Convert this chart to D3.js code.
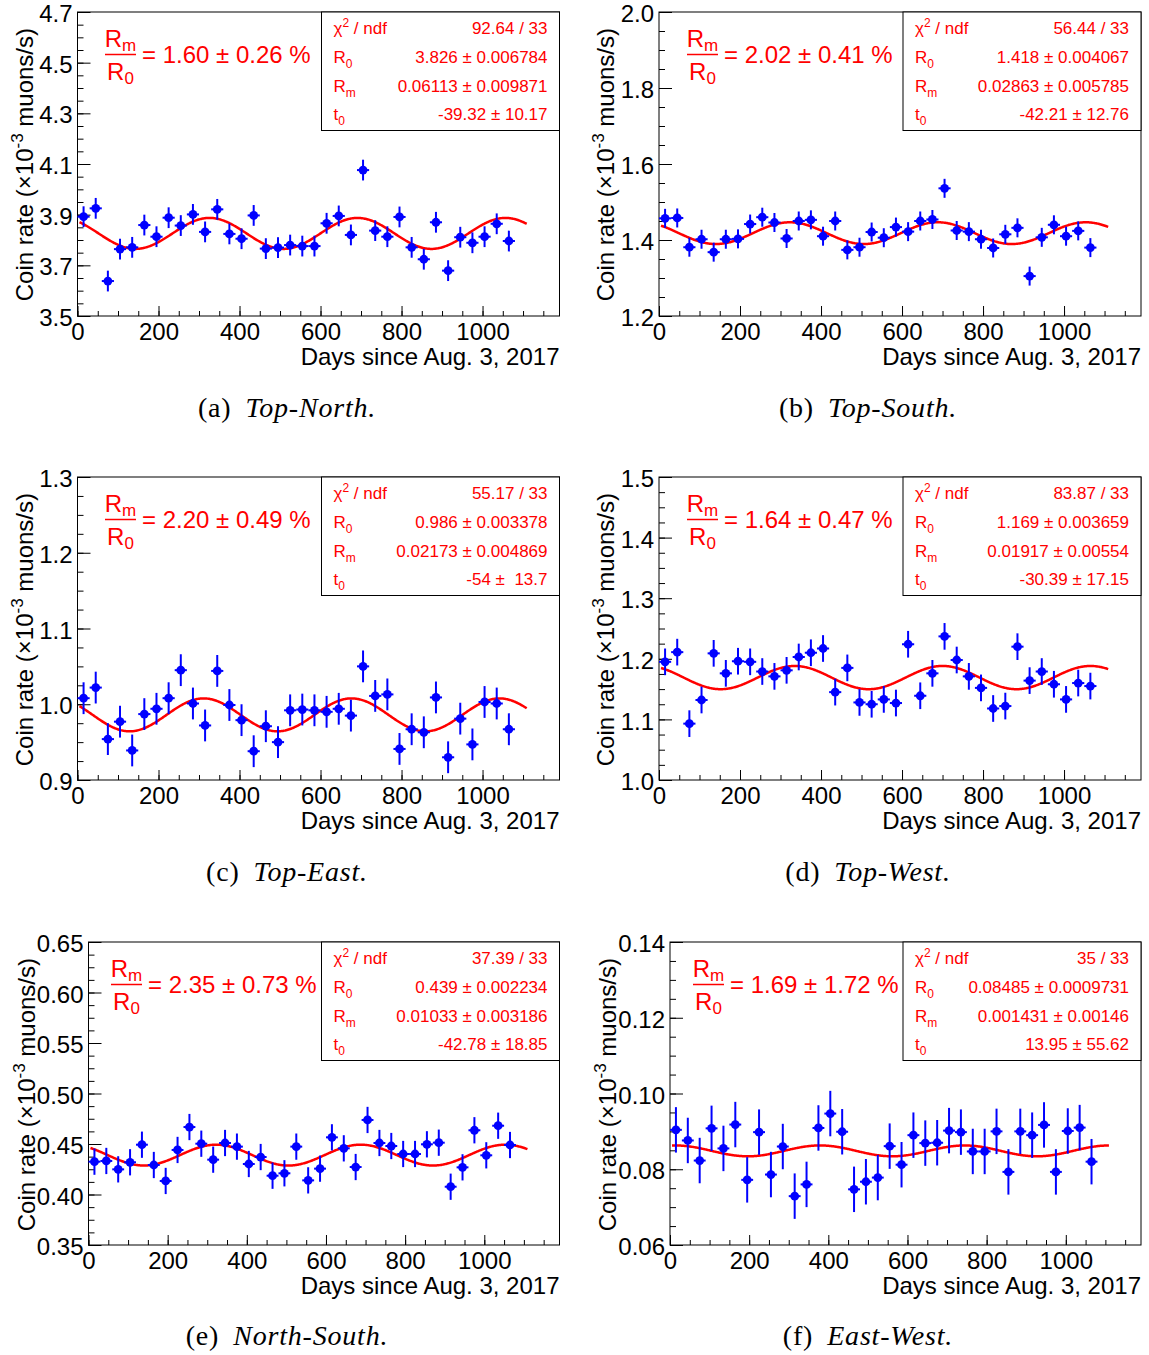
<!DOCTYPE html>
<html>
<head>
<meta charset="utf-8">
<script src="https://cdn.jsdelivr.net/npm/d3@7"></script>
<style>
body { margin: 0; background: #fff; }
text { font-family: "Liberation Sans", Arial, Helvetica, sans-serif; }
.cap { font-family: "Liberation Serif", "Times New Roman", serif; }
</style>
</head>
<body>
<script>
// bin centres (days since Aug. 3, 2017)
var days = [15, 45, 75, 105, 135, 165, 195, 225, 255, 285, 315, 345, 375, 405, 435, 465, 495, 525,
            555, 585, 615, 645, 675, 705, 735, 765, 795, 825, 855, 885, 915, 945, 975, 1005, 1035, 1065];

// coin rates, x10^-3 muons/s
var topNorth = [3.892, 3.925, 3.638, 3.764, 3.771, 3.859, 3.813, 3.888, 3.857, 3.901, 3.832, 3.921,
                3.824, 3.805, 3.897, 3.766, 3.770, 3.780, 3.776, 3.776, 3.866, 3.895, 3.820, 4.076,
                3.837, 3.813, 3.891, 3.771, 3.724, 3.870, 3.679, 3.811, 3.789, 3.813, 3.864, 3.796];
var topSouth = [1.457, 1.458, 1.381, 1.402, 1.368, 1.402, 1.403, 1.442, 1.460, 1.446, 1.404, 1.450,
                1.453, 1.410, 1.450, 1.374, 1.381, 1.421, 1.406, 1.434, 1.422, 1.450, 1.454, 1.536,
                1.425, 1.422, 1.402, 1.379, 1.415, 1.432, 1.305, 1.407, 1.440, 1.410, 1.424, 1.380];
var topEast = [1.008, 1.022, 0.954, 0.977, 0.939, 0.987, 0.994, 1.008, 1.045, 1.001, 0.972, 1.044,
               0.999, 0.979, 0.938, 0.971, 0.950, 0.992, 0.993, 0.992, 0.990, 0.994, 0.985, 1.050,
               1.011, 1.013, 0.941, 0.967, 0.963, 1.009, 0.930, 0.981, 0.947, 1.003, 1.001, 0.967];
var topWest = [1.195, 1.211, 1.093, 1.132, 1.209, 1.176, 1.196, 1.195, 1.179, 1.171, 1.181, 1.203,
               1.210, 1.217, 1.145, 1.185, 1.128, 1.125, 1.133, 1.127, 1.224, 1.139, 1.176, 1.237,
               1.198, 1.171, 1.152, 1.118, 1.122, 1.220, 1.164, 1.179, 1.158, 1.133, 1.160, 1.155];
var northSouth = [0.4325, 0.4332, 0.4249, 0.4319, 0.4493, 0.4292, 0.4134, 0.4441, 0.4668, 0.4503, 0.4345, 0.4510,
                  0.4474, 0.4302, 0.4371, 0.4186, 0.4210, 0.4474, 0.4140, 0.4256, 0.4566, 0.4457, 0.4272, 0.4738,
                  0.4510, 0.4480, 0.4401, 0.4401, 0.4497, 0.4513, 0.4077, 0.4269, 0.4636, 0.4388, 0.4681, 0.4490];
var eastWest = [0.0904, 0.0876, 0.0823, 0.0908, 0.0855, 0.0918, 0.0772, 0.0898, 0.0786, 0.0860, 0.0729, 0.0760,
                0.0909, 0.0947, 0.0899, 0.0747, 0.0767, 0.0778, 0.0861, 0.0812, 0.0890, 0.0869, 0.0870, 0.0902,
                0.0898, 0.0847, 0.0847, 0.0900, 0.0793, 0.0900, 0.0890, 0.0917, 0.0793, 0.0901, 0.0910, 0.0820];

// vertical error of each panel's points
var rateErr = [0.041, 0.025, 0.021, 0.022, 0.013, 0.006];
var binHalf = 15;

// fit results  R0 + Rm*cos(2pi(t-t0)/365.25)
var fitR0 = [3.826, 1.418, 0.986, 1.169, 0.439, 0.08485];
var fitRm = [0.06113, 0.02863, 0.02173, 0.01917, 0.01033, 0.001431];
var fitT0 = [-39.32, -42.21, -54, -30.39, -42.78, 13.95];
var fitRange = [5, 1110];

// stats box texts
var statChi = ["92.64 / 33", "56.44 / 33", "55.17 / 33", "83.87 / 33", "37.39 / 33", "35 / 33"];
var statR0 = ["3.826 \u00b1 0.006784", "1.418 \u00b1 0.004067", "0.986 \u00b1 0.003378",
              "1.169 \u00b1 0.003659", "0.439 \u00b1 0.002234", "0.08485 \u00b1 0.0009731"];
var statRm = ["0.06113 \u00b1 0.009871", "0.02863 \u00b1 0.005785", "0.02173 \u00b1 0.004869",
              "0.01917 \u00b1 0.00554", "0.01033 \u00b1 0.003186", "0.001431 \u00b1 0.00146"];
var statT0 = ["-39.32 \u00b1 10.17", "-42.21 \u00b1 12.76", "-54 \u00b1  13.7",
              "-30.39 \u00b1 17.15", "-42.78 \u00b1 18.85", "13.95 \u00b1 55.62"];
var ratioText = ["= 1.60 \u00b1 0.26 %", "= 2.02 \u00b1 0.41 %", "= 2.20 \u00b1 0.49 %",
                 "= 1.64 \u00b1 0.47 %", "= 2.35 \u00b1 0.73 %", "= 1.69 \u00b1 1.72 %"];

// axes
var xTicks = [0, 200, 400, 600, 800, 1000];
var xMax = 1190;
var yTicks = [["3.5", "3.7", "3.9", "4.1", "4.3", "4.5", "4.7"],
              ["1.2", "1.4", "1.6", "1.8", "2.0"],
              ["0.9", "1.0", "1.1", "1.2", "1.3"],
              ["1.0", "1.1", "1.2", "1.3", "1.4", "1.5"],
              ["0.35", "0.40", "0.45", "0.50", "0.55", "0.60", "0.65"],
              ["0.06", "0.08", "0.10", "0.12", "0.14"]];
var capLetter = ["(a)", "(b)", "(c)", "(d)", "(e)", "(f)"];
var capName = ["Top-North.", "Top-South.", "Top-East.", "Top-West.", "North-South.", "East-West."];

var series = [topNorth, topSouth, topEast, topWest, northSouth, eastWest];

// layout (pixels)
var frames = [
  {l: 77.5, r: 559.5, t: 12, b: 316},
  {l: 659, r: 1141, t: 12, b: 316},
  {l: 77.5, r: 559.5, t: 477, b: 780},
  {l: 659, r: 1141, t: 477, b: 780},
  {l: 88.5, r: 559.5, t: 942, b: 1245},
  {l: 670, r: 1141, t: 942, b: 1245}
];
var titleX = [33, 614, 33, 614, 35, 616];
var ratioX = [105, 687, 105, 687, 111, 693];
var capX = [287, 868];
var capY = [417, 881, 1345];

var red = "#ff0000", blue = "#0000ff";

var svg = d3.select("body").append("svg")
    .attr("width", 1149)
    .attr("height", 1355);

function drawPanel(i) {
  var f = frames[i];
  var ticks = yTicks[i].map(function(s) { return +s; });
  var lo = ticks[0], hi = ticks[ticks.length - 1];
  var dec = yTicks[i][0].split(".")[1].length;

  var x = d3.scaleLinear().domain([0, xMax]).range([f.l, f.r]);
  var y = d3.scaleLinear().domain([lo, hi]).range([f.b, f.t]);

  var g = svg.append("g");

  // minor ticks
  var yStep = (ticks[1] - ticks[0]) / 4;
  var yMinor = d3.range(lo, hi + yStep / 2, yStep);
  var xMinor = d3.range(0, xMax, 50);

  g.append("g")
      .attr("transform", "translate(" + f.l + ",0)")
      .call(d3.axisLeft(y).tickValues(yMinor).tickSize(-6).tickFormat(""))
      .call(function(a) { a.select(".domain").remove(); });
  g.append("g")
      .attr("transform", "translate(0," + f.b + ")")
      .call(d3.axisBottom(x).tickValues(xMinor).tickSize(-5).tickFormat(""))
      .call(function(a) { a.select(".domain").remove(); });

  // major ticks + labels
  var ya = g.append("g")
      .attr("transform", "translate(" + f.l + ",0)")
      .call(d3.axisLeft(y).tickValues(ticks).tickSize(-13).tickPadding(5)
            .tickFormat(d3.format("." + dec + "f")));
  ya.select(".domain").remove();
  ya.selectAll("text").attr("font-size", 24).attr("font-family", null).attr("dy", "0.4em");

  var xa = g.append("g")
      .attr("transform", "translate(0," + f.b + ")")
      .call(d3.axisBottom(x).tickValues(xTicks).tickSize(-10).tickPadding(7)
            .tickFormat(d3.format("d")));
  xa.select(".domain").remove();
  xa.selectAll("text").attr("font-size", 24).attr("font-family", null);
  g.selectAll(".tick line").attr("stroke", "#000");

  // frame
  g.append("rect")
      .attr("x", f.l).attr("y", f.t)
      .attr("width", f.r - f.l).attr("height", f.b - f.t)
      .attr("fill", "none").attr("stroke", "#000").attr("stroke-width", 1);

  // axis titles
  g.append("text")
      .attr("x", f.r).attr("y", f.b + 49)
      .attr("text-anchor", "end").attr("font-size", 24)
      .text("Days since Aug. 3, 2017");

  var yt = g.append("text")
      .attr("transform", "translate(" + titleX[i] + "," + (f.t + 16) + ") rotate(-90)")
      .attr("text-anchor", "end").attr("font-size", 24);
  yt.append("tspan").text("Coin rate (\u00d710");
  yt.append("tspan").attr("dy", -10).attr("font-size", 17).text("-3");
  yt.append("tspan").attr("dy", 10).text(" muons/s)");

  // fit curve
  var tFit = d3.range(fitRange[0], fitRange[1] + 0.1, 2);
  var fitLine = d3.line()
      .x(function(t) { return x(t); })
      .y(function(t) { return y(fitR0[i] + fitRm[i] * Math.cos(2 * Math.PI * (t - fitT0[i]) / 365.25)); });
  g.append("path")
      .datum(tFit)
      .attr("d", fitLine)
      .attr("fill", "none").attr("stroke", red).attr("stroke-width", 2.5);

  // data points with error bars
  var pts = g.append("g").selectAll("g")
      .data(days.map(function(d, k) { return {t: d, v: series[i][k]}; }))
      .enter().append("g");
  pts.append("line")
      .attr("x1", function(d) { return x(d.t); }).attr("x2", function(d) { return x(d.t); })
      .attr("y1", function(d) { return y(d.v - rateErr[i]); })
      .attr("y2", function(d) { return y(d.v + rateErr[i]); })
      .attr("stroke", blue).attr("stroke-width", 2);
  pts.append("line")
      .attr("x1", function(d) { return x(d.t - binHalf); }).attr("x2", function(d) { return x(d.t + binHalf); })
      .attr("y1", function(d) { return y(d.v); }).attr("y2", function(d) { return y(d.v); })
      .attr("stroke", blue).attr("stroke-width", 2);
  pts.append("circle")
      .attr("cx", function(d) { return x(d.t); })
      .attr("cy", function(d) { return y(d.v); })
      .attr("r", 4.4).attr("fill", blue);

  // Rm/R0 ratio
  var rx = ratioX[i];
  var num = g.append("text").attr("x", rx + 15.5).attr("y", f.t + 35)
      .attr("text-anchor", "middle").attr("font-size", 24).attr("fill", red);
  num.append("tspan").text("R");
  num.append("tspan").attr("dy", 4).attr("font-size", 17).text("m");
  g.append("line")
      .attr("x1", rx).attr("x2", rx + 31)
      .attr("y1", f.t + 42.5).attr("y2", f.t + 42.5)
      .attr("stroke", red).attr("stroke-width", 1.5);
  var den = g.append("text").attr("x", rx + 15.5).attr("y", f.t + 68)
      .attr("text-anchor", "middle").attr("font-size", 24).attr("fill", red);
  den.append("tspan").text("R");
  den.append("tspan").attr("dy", 4).attr("font-size", 17).text("0");
  g.append("text")
      .attr("x", rx + 37).attr("y", f.t + 51)
      .attr("font-size", 24).attr("fill", red)
      .text(ratioText[i]);

  // stats box
  var bw = 238, bh = 118.5;
  var bx = f.r - bw, by = f.t;
  g.append("rect")
      .attr("x", bx).attr("y", by).attr("width", bw).attr("height", bh)
      .attr("fill", "#fff").attr("stroke", "#000").attr("stroke-width", 1);
  var rowY = [22, 51, 80, 108];
  var vals = [statChi[i], statR0[i], statRm[i], statT0[i]];
  var labs = [["\u03c7", "2", " / ndf", "sup"], ["R", "0", "", "sub"], ["R", "m", "", "sub"], ["t", "0", "", "sub"]];
  rowY.forEach(function(ry, k) {
    var lt = g.append("text")
        .attr("x", bx + 12).attr("y", by + ry)
        .attr("font-size", 17).attr("fill", red);
    lt.append("tspan").text(labs[k][0]);
    lt.append("tspan").attr("dy", labs[k][3] == "sup" ? -7 : 5).attr("font-size", 12).text(labs[k][1]);
    if (labs[k][2]) lt.append("tspan").attr("dy", 7).text(labs[k][2]);
    g.append("text")
        .attr("x", bx + bw - 12).attr("y", by + ry)
        .attr("text-anchor", "end").attr("font-size", 17).attr("fill", red)
        .style("white-space", "pre")
        .text(vals[k]);
  });

  // caption
  var cap = svg.append("text")
      .attr("class", "cap")
      .attr("x", capX[i % 2]).attr("y", capY[Math.floor(i / 2)])
      .attr("text-anchor", "middle").attr("font-size", 28)
      .attr("letter-spacing", 0.8);
  cap.append("tspan").text(capLetter[i]);
  cap.append("tspan").attr("dx", 14).attr("font-style", "italic").text(capName[i]);
}

for (var i = 0; i < 6; i++) drawPanel(i);
</script>
</body>
</html>
